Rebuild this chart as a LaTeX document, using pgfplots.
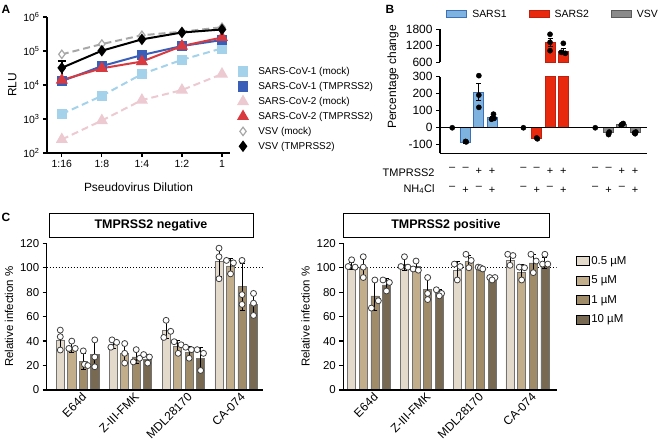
\documentclass[border=0pt]{standalone}
\usepackage{pgfplots}
\pgfplotsset{compat=1.18}
\usepackage{pgfplotstable}
\usepackage{fontspec}
\setmainfont{Liberation Sans}

\definecolor{cvone}{HTML}{A3D2EA}
\definecolor{cvoneT}{HTML}{3A5FB8}
\definecolor{cvtwo}{HTML}{EDC9D1}
\definecolor{cvtwoT}{HTML}{D93A3F}
\definecolor{vsvm}{HTML}{A8A8A8}
\definecolor{sarsA}{HTML}{7EB3DF}
\definecolor{sarsAd}{HTML}{3D70B4}
\definecolor{sarsB}{HTML}{E8290D}
\definecolor{sarsBd}{HTML}{C02010}
\definecolor{vsvB}{HTML}{8A8A8A}
\definecolor{vsvBd}{HTML}{5A5A5A}
\definecolor{cA}{HTML}{E4DACC}
\definecolor{cB}{HTML}{C3AE8C}
\definecolor{cC}{HTML}{A08C69}
\definecolor{cD}{HTML}{786A52}

\newcommand{\fs}[1]{\fontsize{#1}{#1}\selectfont}
\newcommand{\m}{\textendash}

\pgfplotsset{
  base/.style={scale only axis, anchor=south west,
    axis line style={line width=1.2bp,-}, tick style={black,line width=1.2bp},
    tick align=outside, major tick length=4bp, scaled ticks=false,
    /pgf/number format/1000 sep={}, /pgf/number format/assume math mode=true,
    tick label style={font=\fs{10}}, label style={font=\fs{12}}},
  bars/.style={ybar, bar width=#1, bar shift=0pt, forget plot},
  ebars/.style={error bars/.cd, y dir=both, y explicit,
    error bar style={black,line width=0.8bp},
    error mark options={rotate=90,mark size=2.5bp,black,line width=0.8bp}},
  dots/.style={only marks, mark=*, mark size=3bp, forget plot,
    mark options={fill=white,draw=black!75,line width=0.8bp}},
}

% panel A
\pgfplotstableread{
x c1m c1t c2m c2t vm vt
0 1400 13000 250 14000 80000 32000
1 4800 36000 900 31000 160000 102000
2 21000 76000 3600 49000 290000 220000
3 55000 140000 7100 140000 370000 350000
4 120000 210000 21000 250000 500000 430000
}\dataA

% panel B
\pgfplotstableread{
x y e
0 0 0
1 -85 5
2 210 50
3 58 10
}\sarsone
\pgfplotstableread{
x y e
5.35 0 0
6.35 -62 4
7.35 1330 140
8.35 1010 100
}\sarstwo
\pgfplotstableread{
x y e
10.75 0 0
11.75 -30 6
12.75 22 4
13.75 -30 6
}\vsv
\pgfplotstableread{
x y
0 0
1 -80
1.05 -83
2 306
2 192
2 120
3.1 80
2.95 50
3.15 55
5.35 0
6.35 -60
6.4 -65
7.35 1618
7.35 1327
7.35 1022
8.35 1290
8.2 964
8.5 927
10.75 0
11.75 -35
11.8 -25
11.75 -40
12.75 20
12.85 25
12.7 15
13.75 -35
13.8 -25
13.7 -30
}\dotsB

% panel C
\pgfplotstableread{
g m1 s1 m2 s2 m3 s3 m4 s4
0 41 8 35 4 23.5 6.5 29 11
1 37 3 30 8 27 5 25 4
2 49 7 35.5 5 31 5 26 9
3 105 12 101.5 6 84.5 19 70 9
}\negT
\pgfplotstableread{
g m1 s1 m2 s2 m3 s3 m4 s4
0 101.5 3 100 8 77 12 86 5
1 103 5 101 4 82 9 79 3
2 98 7 105 5.5 100 1 91 1.5
3 106 5 96.5 6 104 7 104 4.5
}\posT
\pgfplotstableread{
g j o y
0 0 0 49
0 0 0 43.6
0 0 0 32.7
0 1 0 40
0 1 -0.25 34
0 1 0.3 34
0 2 0 32
0 2 0.1 21
0 2 0.4 20
0 3 0 41
0 3 0 27
0 3 0 19
1 0 -0.1 41
1 0 0.3 39
1 0 -0.2 35
1 1 0 38
1 1 0 30
1 1 0 22
1 2 0 33
1 2 -0.25 23
1 2 0.3 26
1 3 -0.35 29
1 3 0.15 27
1 3 0 22
2 0 0 57
2 0 0.4 48
2 0 -0.2 43
2 1 -0.3 39.5
2 1 0.3 37
2 1 0.05 30
2 2 -0.3 35
2 2 0.2 33
2 2 0 26
2 3 -0.3 33
2 3 0.25 30
2 3 0 16
3 0 0 116
3 0 0 109
3 0 0 91
3 1 -0.35 106
3 1 0.25 104
3 1 0 95
3 2 0 106
3 2 0 78
3 2 0 70
3 3 0 79
3 3 0 71
3 3 0 61
}\negD
\pgfplotstableread{
g j o y
0 0 0 106.5
0 0 -0.3 101
0 0 0.3 100.5
0 1 0 109
0 1 0 100.5
0 1 0 92
0 2 0 90
0 2 -0.3 67
0 2 0.3 73
0 3 -0.3 90
0 3 0.25 88
0 3 0 81
1 0 0 109
1 0 -0.3 101
1 0 0.3 100.5
1 1 0 105.5
1 1 -0.25 99
1 1 0.2 98
1 2 0 92
1 2 0 79
1 2 0 74
1 3 -0.25 82
1 3 0.2 79
1 3 0 77
2 0 -0.25 103
2 0 0.25 101
2 0 0 90
2 1 -0.25 111
2 1 0.2 106
2 1 0 100
2 2 -0.2 100.5
2 2 0 100
2 2 0.2 99
2 3 -0.2 92
2 3 0.25 92
2 3 0 90
3 0 -0.2 111
3 0 0.25 110
3 0 0 102
3 1 -0.2 100.5
3 1 0.25 100
3 1 0 90
3 2 -0.2 111
3 2 0.25 105.5
3 2 0 96
3 3 0 111
3 3 -0.2 103
3 3 0.25 103
}\posD

\begin{document}
\begin{tikzpicture}
\useasboundingbox (0,0) rectangle (658bp,441bp);

% ---------- A ----------
\begin{axis}[base, at={(47bp,288bp)}, width=183bp, height=136bp,
  ymode=log, ymin=100, ymax=1e6, xmin=-0.37, xmax=4.2,
  axis x line*=bottom, axis y line*=left, yminorticks=false,
  xtick={0,...,4}, xticklabels={1:16,1:8,1:4,1:2,1},
  ytick={1e2,1e3,1e4,1e5,1e6},
  yticklabels={10\textsuperscript{2},10\textsuperscript{3},10\textsuperscript{4},10\textsuperscript{5},10\textsuperscript{6}},
  tick label style={font=\fs{10.5}},
  xlabel={Pseudovirus Dilution}, ylabel={RLU},
  xlabel style={yshift=-8bp},
  legend image code/.code={\draw[#1] plot[only marks] coordinates {(5bp,0bp)};},
  legend style={at={(1.03,0.66)}, anchor=north west, draw=none, fill=none,
    font=\fs{10}, row sep=2.2bp, cells={anchor=west},
    /tikz/every odd column/.append style={column sep=9bp}},
]
\addplot[cvone, line width=2bp, dash pattern=on 7bp off 4bp, mark=square*, mark size=4.3bp, mark options={solid}]
  table[x=x,y=c1m]{\dataA};
\addplot[cvoneT, line width=2bp, mark=square*, mark size=4.3bp]
  table[x=x,y=c1t]{\dataA};
\addplot[cvtwo, line width=2bp, dash pattern=on 7bp off 4bp, mark=triangle*, mark size=5bp, mark options={solid}]
  table[x=x,y=c2m]{\dataA};
\addplot[cvtwoT, line width=2bp, mark=triangle*, mark size=5bp]
  table[x=x,y=c2t]{\dataA};
\addplot[vsvm, line width=2bp, dash pattern=on 7bp off 4bp, mark=diamond*, mark size=4.2bp, mark options={solid,fill=white,line width=1.2bp}]
  table[x=x,y=vm]{\dataA};
\addplot[black, line width=2bp, mark=diamond*, mark size=4.2bp]
  table[x=x,y=vt]{\dataA};
\addplot[black, forget plot, draw=none, mark=none, error bars/.cd, y dir=both, y explicit,
  error bar style={black,line width=1.5bp}, error mark options={rotate=90,mark size=4bp,black,line width=1.5bp}]
  coordinates {(0,32000) +- (0,19000)};
\legend{SARS-CoV-1 (mock),SARS-CoV-1 (TMPRSS2),SARS-CoV-2 (mock),SARS-CoV-2 (TMPRSS2),VSV (mock),VSV (TMPRSS2)}
\end{axis}

% ---------- B lower ----------
\begin{axis}[base, at={(440bp,287.7bp)}, width=207bp, height=76.6bp,
  xmin=-0.92, xmax=14.64, ymin=-150, ymax=300, clip=false,
  axis x line*=bottom, axis y line*=left,
  ytick={-100,0,100,200,300}, tick label style={font=\fs{12}},
  xtick={0,1,2,3,5.35,6.35,7.35,8.35,10.75,11.75,12.75,13.75},
  xticklabels={\m,\m,+,+,\m,\m,+,+,\m,\m,+,+},
  extra x ticks={0,1,2,3,5.35,6.35,7.35,8.35,10.75,11.75,12.75,13.75},
  extra x tick labels={\m,+,\m,+,\m,+,\m,+,\m,+,\m,+},
  extra x tick style={major tick length=0bp, xticklabel style={yshift=-23bp}},
  major x tick style={draw=none},
  xticklabel style={font=\fs{11}, yshift=-7bp},
]
\addplot[bars=0.75, fill=sarsA, draw=sarsAd, line width=0.9bp, ebars] table[x=x,y=y,y error=e]{\sarsone};
\addplot[bars=0.75, fill=sarsB, draw=sarsBd, line width=0.9bp, restrict y to domain*=-150:300] table[x=x,y=y]{\sarstwo};
\addplot[bars=0.75, fill=vsvB, draw=vsvBd, line width=0.9bp] table[x=x,y=y]{\vsv};
\addplot[black, line width=1.2bp, forget plot] coordinates {(-0.92,0) (14.64,0)};
\addplot[only marks, mark=*, mark size=2.6bp, black, forget plot, restrict y to domain=-150:400] table[x=x,y=y]{\dotsB};
\end{axis}

% ---------- B upper ----------
\begin{axis}[base, at={(440bp,378.7bp)}, width=207bp, height=33bp,
  xmin=-0.92, xmax=14.64, ymin=600, ymax=1800,
  axis y line*=left, axis x line=none, xtick=\empty,
  ytick={600,1200,1800}, tick label style={font=\fs{12}},
  legend image code/.code={\draw[#1] (0bp,-3.5bp) rectangle (20bp,3.5bp);},
  legend style={at={(0.546,1.46)}, anchor=center, draw=none, fill=none, legend columns=3,
    font=\fs{10.5}, /tikz/every even column/.append style={column sep=20bp},
    /tikz/every odd column/.append style={column sep=3bp}},
]
\addplot[bars=0.75, fill=sarsB, draw=sarsBd, line width=0.9bp, restrict y to domain=600:2000, ebars] table[x=x,y=y,y error=e]{\sarstwo};
\addplot[only marks, mark=*, mark size=2.6bp, black, forget plot] table[x=x,y=y]{\dotsB};
\addlegendimage{fill=sarsA, draw=sarsAd, line width=1bp}
\addlegendimage{fill=sarsB, draw=sarsBd, line width=1bp}
\addlegendimage{fill=vsvB, draw=vsvBd, line width=1bp}
\legend{SARS1,SARS2,VSV}
\end{axis}

% ---------- C left ----------
\begin{axis}[base, at={(46.7bp,51bp)}, width=216.6bp, height=146.7bp,
  xmin=-1.18, xmax=17.65, ymin=0, ymax=120,
  axis x line*=bottom, axis y line*=left,
  ytick={0,20,...,120}, tick label style={font=\fs{11.5}}, label style={font=\fs{11.5}},
  xtick={1.5,6.1,10.7,15.3}, xticklabels={E64d,Z-III-FMK,MDL28170,CA-074},
  major x tick style={draw=none},
  xticklabel style={rotate=45, anchor=north east, font=\fs{12}, inner sep=1bp, xshift=5bp},
  ylabel={Relative infection \%},
]
\addplot[black, dotted, line width=1bp, forget plot] coordinates {(-1.18,100) (17.65,100)};
\addplot[bars=0.7, fill=cA, draw=black!55, line width=0.6bp, ebars] table[x expr=4.6*\thisrow{g}+0, y=m1, y error=s1]{\negT};
\addplot[bars=0.7, fill=cB, draw=black!55, line width=0.6bp, ebars] table[x expr=4.6*\thisrow{g}+1, y=m2, y error=s2]{\negT};
\addplot[bars=0.7, fill=cC, draw=black!55, line width=0.6bp, ebars] table[x expr=4.6*\thisrow{g}+2, y=m3, y error=s3]{\negT};
\addplot[bars=0.7, fill=cD, draw=black!55, line width=0.6bp, ebars] table[x expr=4.6*\thisrow{g}+3, y=m4, y error=s4]{\negT};
\addplot[dots] table[x expr=4.6*\thisrow{g}+\thisrow{j}+\thisrow{o}, y=y]{\negD};
\end{axis}

% ---------- C right ----------
\begin{axis}[base, at={(343.3bp,51bp)}, width=213.4bp, height=146.7bp,
  xmin=-0.72, xmax=17.67, ymin=0, ymax=120,
  axis x line*=bottom, axis y line*=left,
  ytick={0,20,...,120}, tick label style={font=\fs{11.5}}, label style={font=\fs{11.5}},
  xtick={1.5,6.05,10.6,15.15}, xticklabels={E64d,Z-III-FMK,MDL28170,CA-074},
  major x tick style={draw=none},
  xticklabel style={rotate=45, anchor=north east, font=\fs{12}, inner sep=1bp, xshift=5bp},
  ylabel={Relative infection \%},
  legend image code/.code={\fill[#1] (0bp,-4.5bp) rectangle (13bp,4.5bp);},
  legend style={at={(1.075,0.94)}, anchor=north west, draw=none, fill=none,
    font=\fs{11.5}, row sep=6bp, cells={anchor=west}},
]
\addplot[black, dotted, line width=1bp, forget plot] coordinates {(-0.72,100) (17.67,100)};
\addplot[bars=0.7, fill=cA, draw=black!55, line width=0.6bp, ebars] table[x expr=4.55*\thisrow{g}+0, y=m1, y error=s1]{\posT};
\addplot[bars=0.7, fill=cB, draw=black!55, line width=0.6bp, ebars] table[x expr=4.55*\thisrow{g}+1, y=m2, y error=s2]{\posT};
\addplot[bars=0.7, fill=cC, draw=black!55, line width=0.6bp, ebars] table[x expr=4.55*\thisrow{g}+2, y=m3, y error=s3]{\posT};
\addplot[bars=0.7, fill=cD, draw=black!55, line width=0.6bp, ebars] table[x expr=4.55*\thisrow{g}+3, y=m4, y error=s4]{\posT};
\addplot[dots] table[x expr=4.55*\thisrow{g}+\thisrow{j}+\thisrow{o}, y=y]{\posD};
\addlegendimage{fill=cA}
\addlegendimage{fill=cB}
\addlegendimage{fill=cC}
\addlegendimage{fill=cD}
\legend{0.5 µM,5 µM,1 µM,10 µM}
\end{axis}

% bottom axis lines
\draw[black, line width=1.2bp] (440bp,287.7bp) -- (647bp,287.7bp);
\draw[black, line width=1.2bp] (46.7bp,51bp) -- (263.3bp,51bp);
\draw[black, line width=1.2bp] (343.3bp,51bp) -- (556.7bp,51bp);

% labels and boxes
\node[font=\bfseries\fs{12}] at (6bp,432bp) {A};
\node[font=\bfseries\fs{12}] at (390bp,432bp) {B};
\node[font=\bfseries\fs{12}] at (6bp,224bp) {C};
\node[rotate=90, font=\fs{12}] at (393bp,364bp) {Percentage change};
\node[anchor=east, font=\fs{11}] at (438bp,268.3bp) {TMPRSS2};
\node[anchor=east, font=\fs{11}] at (438bp,252bp) {NH\textsubscript{4}Cl};
\node[draw, line width=0.8bp, minimum width=204bp, minimum height=24bp, font=\bfseries\fs{12.5}] at (151bp,216bp) {TMPRSS2 negative};
\node[draw, line width=0.8bp, minimum width=206bp, minimum height=24bp, font=\bfseries\fs{12.5}] at (446bp,216bp) {TMPRSS2 positive};
\end{tikzpicture}
\end{document}
